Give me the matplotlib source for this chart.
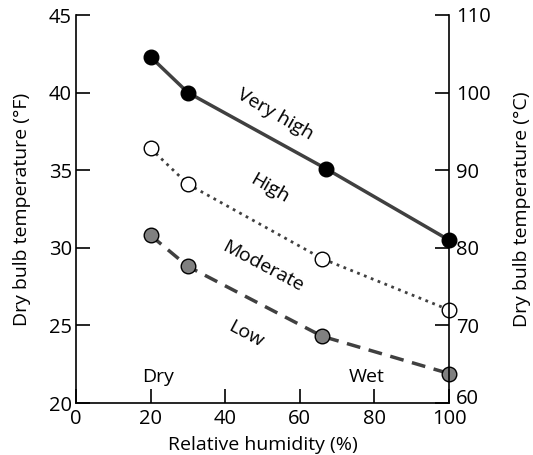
import matplotlib
matplotlib.use("Agg")
import matplotlib.pyplot as plt
import matplotlib.transforms as mtransforms

plt.rcParams['font.family'] = ['Open Sans', 'DejaVu Sans']

humidity_vh = [20, 30, 67, 100]
temp_vh = [42.3, 40.0, 35.1, 30.5]
humidity_h = [20, 30, 66, 100]
temp_h = [36.4, 34.1, 29.3, 26.0]
humidity_l = [20, 30, 66, 100]
temp_l = [30.8, 28.8, 24.3, 21.9]

xticks = [0, 20, 40, 60, 80, 100]
yticks_left = [20, 25, 30, 35, 40, 45]
yticks_right = [60, 70, 80, 90, 100, 110]

fig = plt.figure(figsize=(5.33, 4.55), dpi=100)
ax = fig.add_axes([76/533, 1-403/455, (449-76)/533, (403-15)/455])
ax.set_xlim(0, 100)
ax.set_ylim(20, 45)

line_col = '#404040'
ax.plot(humidity_vh, temp_vh, '-', color=line_col, lw=2.5, marker='o', ms=10.5,
        mfc='black', mec='black', mew=1, clip_on=False, zorder=3)
ax.plot(humidity_h, temp_h, ':', color=line_col, lw=2, marker='o', ms=10.5,
        mfc='white', mec='black', mew=1, clip_on=False, zorder=3)
ax.plot(humidity_l, temp_l, '--', color=line_col, lw=2.5, marker='o', ms=10.5,
        mfc='#808080', mec='black', mew=1, clip_on=False, zorder=3, dashes=(4, 2.5))

fs = 14
ax.text(53.5, 38.6, 'Very high', rotation=-30, ha='center', va='center', fontsize=fs)
ax.text(52, 33.8, 'High', rotation=-30, ha='center', va='center', fontsize=fs)
ax.text(50, 28.8, 'Moderate', rotation=-28, ha='center', va='center', fontsize=fs)
ax.text(45.6, 24.4, 'Low', rotation=-28, ha='center', va='center', fontsize=fs)
ax.text(22, 21.7, 'Dry', ha='center', va='center', fontsize=fs)
ax.text(78, 21.7, 'Wet', ha='center', va='center', fontsize=fs)

ax.set_xticks(xticks)
ax.set_yticks(yticks_left)
ax.spines['top'].set_visible(False)
ax.spines['right'].set_visible(False)
for s in ax.spines.values():
    s.set_linewidth(1.2)
ax.tick_params(axis='both', direction='in', length=10, width=1.2, labelsize=14.5)
ax.tick_params(axis='x', pad=4)
ax.tick_params(axis='y', pad=3)
ax.set_xlabel('Relative humidity (%)', fontsize=fs, labelpad=5)
ax.set_ylabel('Dry bulb temperature (°F)', fontsize=fs, labelpad=13)

ax2 = ax.twinx()
ax2.set_ylim(60, 110)
ax2.set_yticks(yticks_right)
ax2.spines['top'].set_visible(False)
ax2.spines['left'].set_visible(False)
ax2.spines['bottom'].set_visible(False)
ax2.spines['right'].set_linewidth(1.2)
ax2.tick_params(axis='y', direction='in', length=10, width=1.2, labelsize=14.5, pad=5)
ax2.set_ylabel('Dry bulb temperature (°C)', fontsize=fs, labelpad=16)

# nudge the lowest right-hand tick label up a little, as in the reference
lbl = ax2.yaxis.get_major_ticks()[0].label2
lbl.set_transform(lbl.get_transform() + mtransforms.ScaledTranslation(0, 6/100, fig.dpi_scale_trans))

fig.savefig('out.png', dpi=100)
